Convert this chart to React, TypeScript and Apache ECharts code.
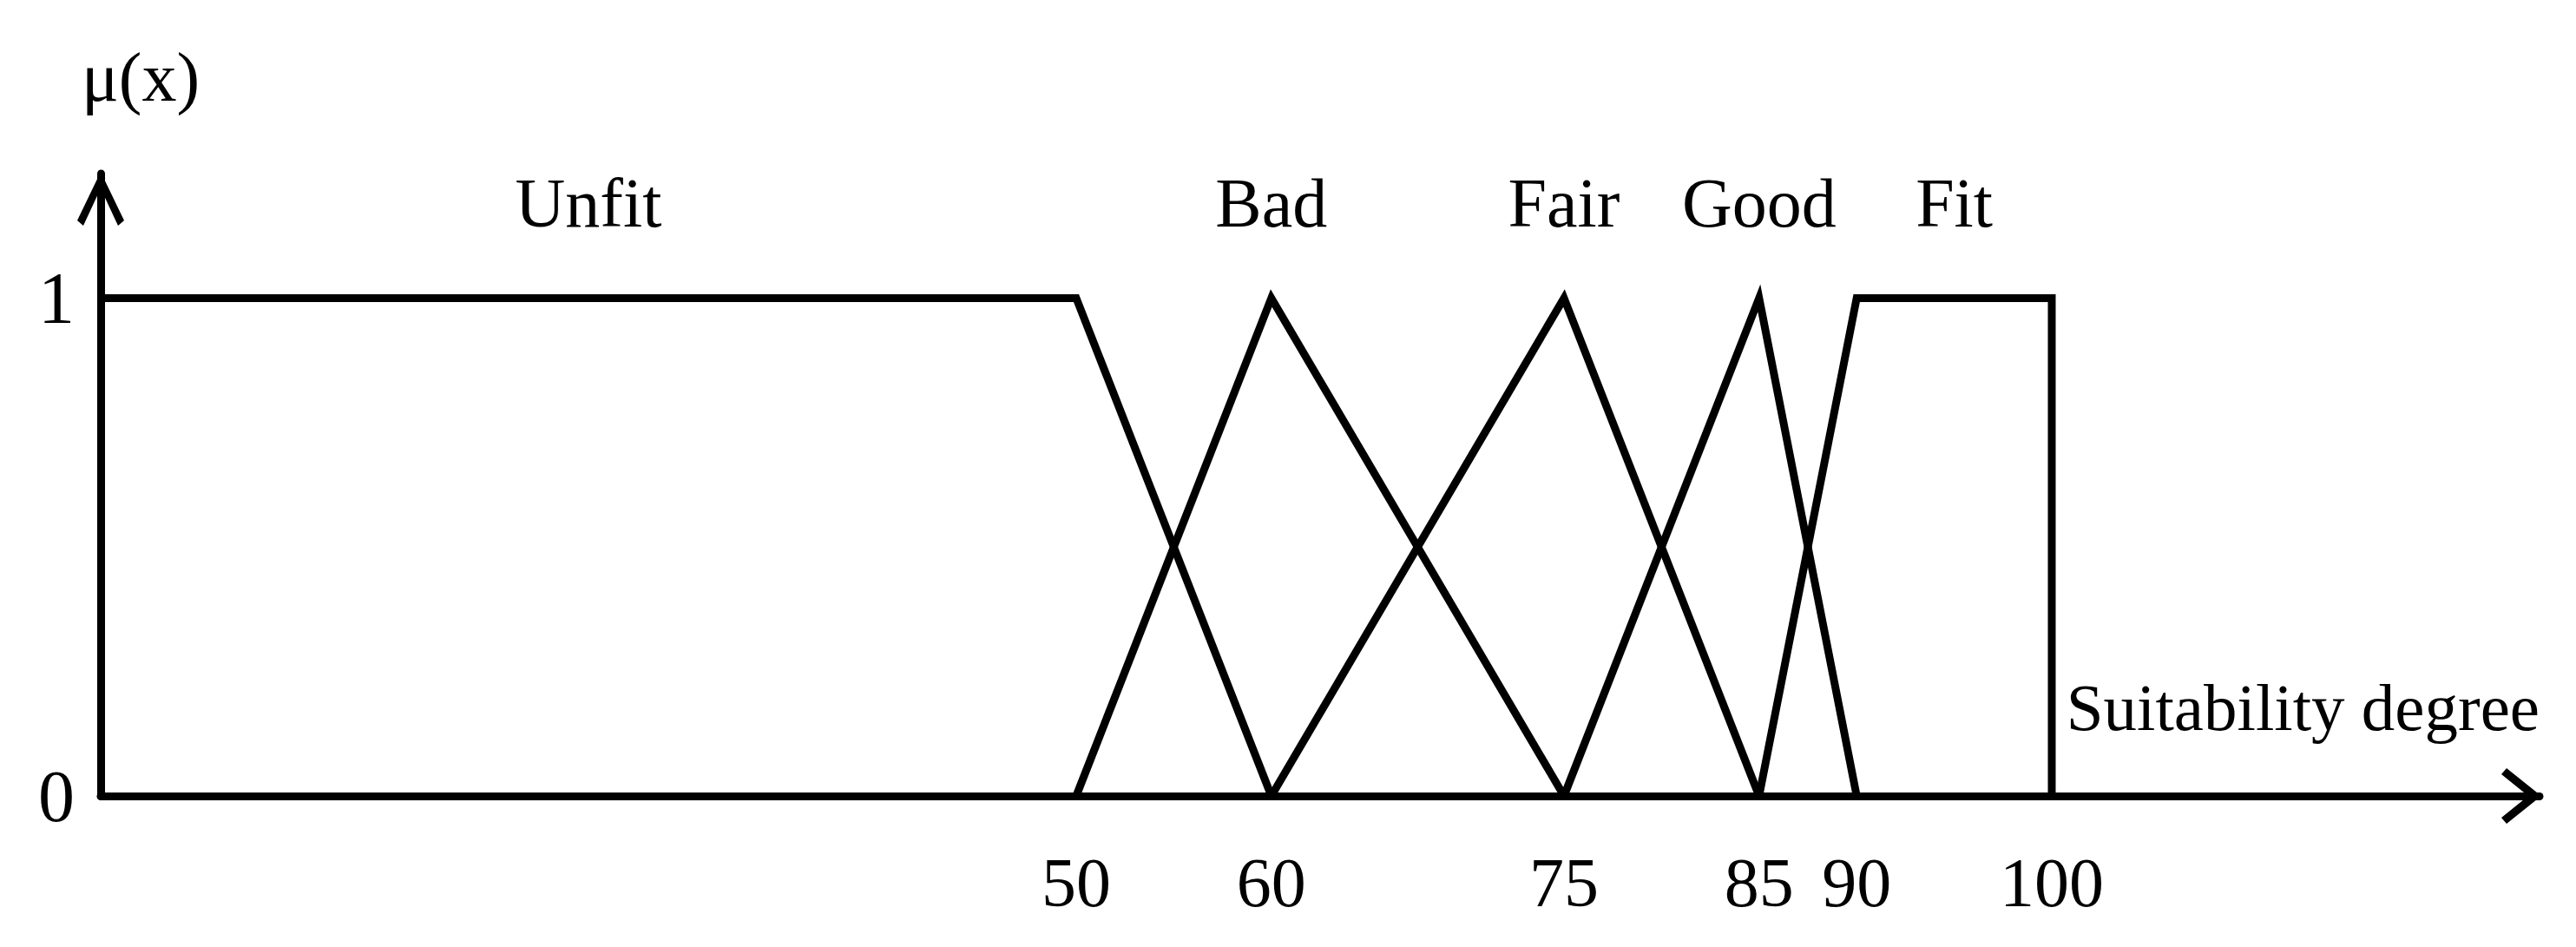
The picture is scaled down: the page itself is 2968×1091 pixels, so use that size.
import React, { useEffect, useRef } from 'react';
import * as echarts from 'echarts';

// ---- data ----
const setNames = ['Unfit', 'Bad', 'Fair', 'Good', 'Fit'];
const unfitPoints = [[0, 1], [50, 1], [60, 0]];
const badPoints = [[50, 0], [60, 1], [75, 0]];
const fairPoints = [[60, 0], [75, 1], [85, 0]];
const goodPoints = [[75, 0], [85, 1], [90, 0]];
const fitPoints = [[85, 0], [90, 1], [100, 1], [100, 0]];
const xTickValues = [50, 60, 75, 85, 90, 100];
const yTickValues = [0, 1];
const xAxisTitle = 'Suitability degree';
const yAxisTitle = 'μ(x)';

const FONT = "'Liberation Serif', 'Times New Roman', serif";
// open chevron arrow heads (tip pointing up, rotated by the axis)
const yArrow = 'path://M27,0 L54,56 L47,62 L27,19 L7,62 L0,56 Z';
const xArrow = 'path://M32,0 L64,40 L57,46 L32,15 L7,46 L0,40 Z';

function coreCenter(points: number[][]) {
  const xs = points.filter((p) => p[1] === 1).map((p) => p[0]);
  return (Math.min(...xs) + Math.max(...xs)) / 2;
}

export default function App() {
  const ref = useRef<HTMLDivElement>(null);

  useEffect(() => {
    if (!ref.current) return;
    const chart = echarts.init(ref.current, null, { renderer: 'svg' });
    const sets = [unfitPoints, badPoints, fairPoints, goodPoints, fitPoints];

    const series = sets.map((pts, i) => ({
      type: 'line',
      name: setNames[i],
      data: pts,
      showSymbol: false,
      symbol: 'none',
      silent: true,
      lineStyle: { color: '#000', width: 9, join: 'miter' },
      markPoint: {
        symbol: 'circle',
        symbolSize: 1,
        silent: true,
        itemStyle: { color: 'rgba(0,0,0,0)' },
        label: {
          show: true,
          position: 'top',
          distance: 69,
          color: '#000',
          fontSize: 80,
          fontFamily: FONT,
          formatter: setNames[i],
        },
        data: [{ coord: [coreCenter(pts), 1], name: setNames[i] }],
      },
    }));

    chart.setOption({
      animation: false,
      backgroundColor: '#fff',
      grid: { left: 116, right: 42, top: 200, bottom: 174 },
      xAxis: {
        type: 'value',
        min: 0,
        max: 125,
        name: xAxisTitle,
        nameLocation: 'end',
        nameGap: 0,
        nameTextStyle: {
          color: '#000',
          fontSize: 77,
          fontFamily: FONT,
          align: 'right',
          verticalAlign: 'bottom',
          padding: [0, 0, 64, 0],
        },
        axisLine: {
          show: true,
          symbol: ['none', xArrow],
          symbolSize: [64, 46],
          symbolOffset: [0, -21],
          lineStyle: { color: '#000', width: 9 },
        },
        axisTick: { show: false },
        splitLine: { show: false },
        axisLabel: {
          customValues: xTickValues,
          color: '#000',
          fontSize: 80,
          fontFamily: FONT,
          margin: 60,
        },
      },
      yAxis: {
        type: 'value',
        min: 0,
        max: 1.25,
        name: yAxisTitle,
        nameLocation: 'end',
        nameGap: 71,
        nameTextStyle: {
          color: '#000',
          fontSize: 80,
          fontFamily: FONT,
          align: 'center',
          padding: [0, 0, 0, 92],
        },
        axisLine: {
          show: true,
          symbol: ['none', yArrow],
          symbolSize: [54, 62],
          symbolOffset: [0, -29],
          lineStyle: { color: '#000', width: 9 },
        },
        axisTick: { show: false },
        splitLine: { show: false },
        axisLabel: {
          customValues: yTickValues,
          color: '#000',
          fontSize: 84,
          fontFamily: FONT,
          margin: 30,
        },
      },
      series,
    });

    return () => chart.dispose();
  }, []);

  return (
    <div
      ref={ref}
      style={{ position: 'fixed', left: 0, top: 0, width: 2968, height: 1091 }}
    />
  );
}
